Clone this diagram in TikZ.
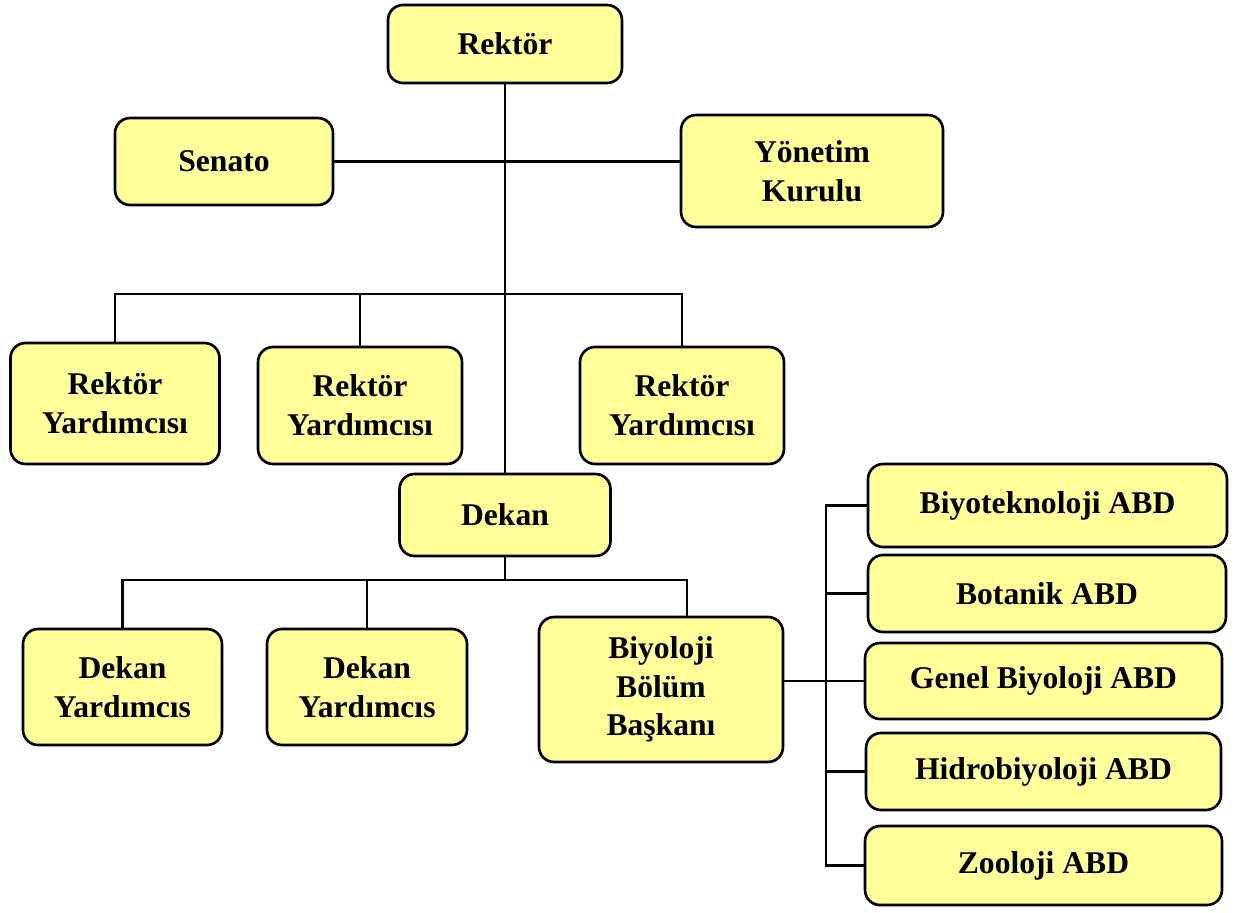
\documentclass[tikz,border=0pt]{standalone}
\usepackage{fontspec}
\setmainfont{Liberation Serif}
\usepackage{tikz}
\definecolor{boxfill}{HTML}{FFFF99}

\tikzset{
	unit/.style={draw=black,line width=1.5pt,fill=boxfill,rounded corners=0.3cm,
		align=center,font=\bfseries\fontsize{18}{22}\selectfont,inner sep=2pt},
	link/.style={line width=1.3pt}
}

\begin{document}
\begin{tikzpicture}[x=0.02cm,y=-0.02cm]
	\useasboundingbox (0,0) rectangle (1239,912);
	% top level
	\node[unit,minimum width=4.68cm,minimum height=1.56cm] (rektor) at (505,44) {Rekt\"or};
	\node[unit,minimum width=4.36cm,minimum height=1.74cm] (senato) at (224,161.5) {Senato};
	\node[unit,minimum width=5.24cm,minimum height=2.24cm] (yonetim) at (812,171) {Y\"onetim\\Kurulu};
	% rektor yardimcilari
	\node[unit,minimum width=4.18cm,minimum height=2.42cm] (ry1) at (115,403.5) {Rekt\"or\\Yard\i mc\i s\i};
	\node[unit,minimum width=4.08cm,minimum height=2.34cm] (ry2) at (360,405.5) {Rekt\"or\\Yard\i mc\i s\i};
	\node[unit,minimum width=4.08cm,minimum height=2.34cm] (ry3) at (682,405.5) {Rekt\"or\\Yard\i mc\i s\i};
	% dekanlik
	\node[unit,minimum width=4.22cm,minimum height=1.64cm] (dekan) at (505,515) {Dekan};
	\node[unit,minimum width=3.98cm,minimum height=2.32cm] (dy1) at (122.5,687) {Dekan\\Yard\i mc\i s};
	\node[unit,minimum width=4.00cm,minimum height=2.32cm] (dy2) at (367,687) {Dekan\\Yard\i mc\i s};
	\node[unit,minimum width=4.88cm,minimum height=2.90cm] (bbb) at (661,689.5) {Biyoloji\\B\"ol\"um\\Ba\c{s}kan\i};
	% anabilim dallari
	\node[unit,minimum width=7.18cm,minimum height=1.66cm] (abd1) at (1047.5,505.5) {Biyoteknoloji ABD};
	\node[unit,minimum width=7.16cm,minimum height=1.54cm] (abd2) at (1047,593.5) {Botanik ABD};
	\node[unit,minimum width=7.14cm,minimum height=1.52cm] (abd3) at (1043.5,681) {Genel Biyoloji ABD};
	\node[unit,minimum width=7.10cm,minimum height=1.54cm] (abd4) at (1043.5,771.5) {Hidrobiyoloji ABD};
	\node[unit,minimum width=7.14cm,minimum height=1.58cm] (abd5) at (1043.5,865.5) {Zooloji ABD};

	% connectors
	\coordinate (ryBus) at (505,294);
	\coordinate (dkBus) at (505,580);
	\coordinate (abdBus) at (826,681);
	\draw[link] (rektor.south) -- (dekan.north);
	\draw[link] (senato.east) -- (senato.east -| yonetim.west);
	\draw[link] (ry1.north) |- (ryBus) -| (ry3.north);
	\draw[link] (ry2.north) -- (ry2.north |- ryBus);
	\draw[link] (dekan.south) -- (dkBus);
	\draw[link] (dy1.north) |- (dkBus) -| ([xshift=0.52cm]bbb.north);
	\draw[link] (dy2.north) -- (dy2.north |- dkBus);
	\draw[link] (abd3.west -| bbb.east) -- (abd3.west);
	\draw[link] (abd1.west) -| (abdBus |- abd5.west) -- (abd5.west);
	\foreach \i in {2,4}
		\draw[link] (abd\i.west) -- (abd\i.west -| abdBus);
\end{tikzpicture}
\end{document}
